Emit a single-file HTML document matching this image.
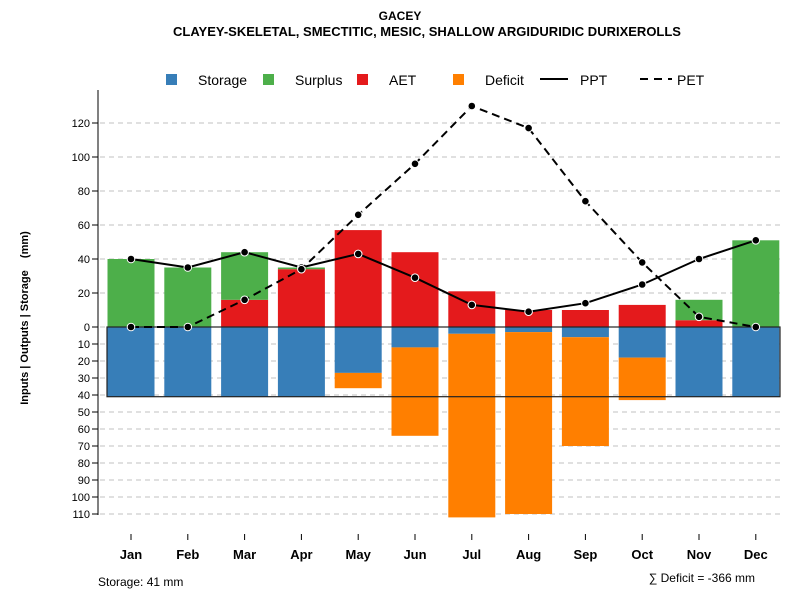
<!DOCTYPE html>
<html><head><meta charset="utf-8"><style>
body{margin:0;background:#fff;}
svg{display:block;font-family:"Liberation Sans",sans-serif;}
</style></head><body>
<svg id="chart" width="800" height="600"></svg>
<script>
const months=["Jan","Feb","Mar","Apr","May","Jun","Jul","Aug","Sep","Oct","Nov","Dec"];
const storage=[41,41,41,41,27,12,4,3,6,18,41,41];
const deficit=[0,0,0,0,9,52,108,107,64,25,0,0];
const aet=[0,0,16,34,57,44,21,10,10,13,4,0];
const surplus=[40,35,28,1,0,0,0,0,0,0,12,51];
const ppt=[40,35,44,35,43,29,13,9,14,25,40,51];
const pet=[0,0,16,34,66,96,130,117,74,38,6,0];
const posTicks=[0,20,40,60,80,100,120];
const negTicks=[10,20,30,40,50,60,70,80,90,100,110];
const storageCap=41;

const NS="http://www.w3.org/2000/svg";
const svg=document.getElementById('chart');
function el(t,a,p){const e=document.createElementNS(NS,t);for(const k in a)e.setAttribute(k,a[k]);(p||svg).appendChild(e);return e;}
const y=v=>327-v*1.7;
const x=i=>131+i*56.8;
const bw=47;

let t=el('text',{x:400,y:20,'text-anchor':'middle','font-size':12,'font-weight':'bold'});t.textContent="GACEY";


t=el('text',{x:427,y:36,'text-anchor':'middle','font-size':13,'font-weight':'bold'});t.textContent="CLAYEY-SKELETAL, SMECTITIC, MESIC, SHALLOW ARGIDURIDIC DURIXEROLLS";



const gridVals=posTicks.map(v=>v).concat(negTicks.map(v=>-v));
gridVals.forEach(v=>{const g=el('line',{x1:100,x2:782,y1:y(v),y2:y(v),stroke:'#c0c0c0','stroke-dasharray':'5,4','stroke-width':1});

});

const ax=el('line',{x1:98,x2:98,y1:90,y2:515,stroke:'#000'});


posTicks.forEach(v=>{el('line',{x1:92,x2:98,y1:y(v),y2:y(v),stroke:'#000'});
const l=el('text',{x:90,y:y(v)+4,'text-anchor':'end','font-size':11});l.textContent=v;

});
negTicks.forEach(v=>{el('line',{x1:92,x2:98,y1:y(-v),y2:y(-v),stroke:'#000'});
const l=el('text',{x:90,y:y(-v)+4,'text-anchor':'end','font-size':11});l.textContent=v;

});
t=el('text',{x:0,y:0,'font-size':11,'font-weight':'bold','text-anchor':'middle',transform:'translate(28,318) rotate(-90)'});t.textContent="Inputs | Outputs | Storage\u00a0\u00a0\u00a0\u00a0(mm)";



months.forEach((m,i)=>{
  const x0=x(i)-bw/2;
  let r=el('rect',{x:x0,y:y(0),width:bw,height:storage[i]*1.7,fill:'#377eb8'});
  
  
  if(deficit[i]>0){r=el('rect',{x:x0,y:y(-storage[i]),width:bw,height:deficit[i]*1.7,fill:'#ff7f00'});
  
  }
  if(aet[i]>0){r=el('rect',{x:x0,y:y(aet[i]),width:bw,height:aet[i]*1.7,fill:'#e41a1c'});
  
  }
  if(surplus[i]>0){r=el('rect',{x:x0,y:y(aet[i]+surplus[i]),width:bw,height:surplus[i]*1.7,fill:'#4daf4a'});
  
  }
  el('line',{x1:x(i),x2:x(i),y1:534,y2:540,stroke:'#000'});
  const l=el('text',{x:x(i),y:559,'text-anchor':'middle','font-size':13,'font-weight':'bold'});l.textContent=m;
  
  
});
const sb=el('rect',{x:107,y:y(0),width:673,height:storageCap*1.7,fill:'none',stroke:'#222','stroke-width':1.2});



function series(arr,dash,name){
  const p=el('polyline',{points:arr.map((v,i)=>x(i)+','+y(v)).join(' '),fill:'none',stroke:'#000','stroke-width':2,'stroke-dasharray':dash});
  
  
  arr.forEach((v,i)=>{const c=el('circle',{cx:x(i),cy:y(v),r:3.8,fill:'#000',stroke:'#fff','stroke-width':1});
  
  });
}
series(ppt,'none','ppt');
series(pet,'8,5','pet');

const leg=[["Storage","#377eb8",166],["Surplus","#4daf4a",263],["AET","#e41a1c",357],["Deficit","#ff7f00",453]];
leg.forEach(([n,c,lx])=>{
  const r=el('rect',{x:lx,y:74,width:11,height:11,fill:c});
  
  
  const l=el('text',{x:lx+32,y:85,'font-size':14});l.textContent=n;
  
  
});
let ll=el('line',{x1:540,x2:568,y1:79,y2:79,stroke:'#000','stroke-width':2});


t=el('text',{x:580,y:85,'font-size':14});t.textContent="PPT";


ll=el('line',{x1:640,x2:672,y1:79,y2:79,stroke:'#000','stroke-width':2,'stroke-dasharray':'8,6'});


t=el('text',{x:677,y:85,'font-size':14});t.textContent="PET";



t=el('text',{x:98,y:586,'font-size':12});t.textContent="Storage: 41 mm";


t=el('text',{x:755,y:582,'font-size':12,'text-anchor':'end'});t.textContent="∑ Deficit = -366 mm";


</script>
</body></html>
